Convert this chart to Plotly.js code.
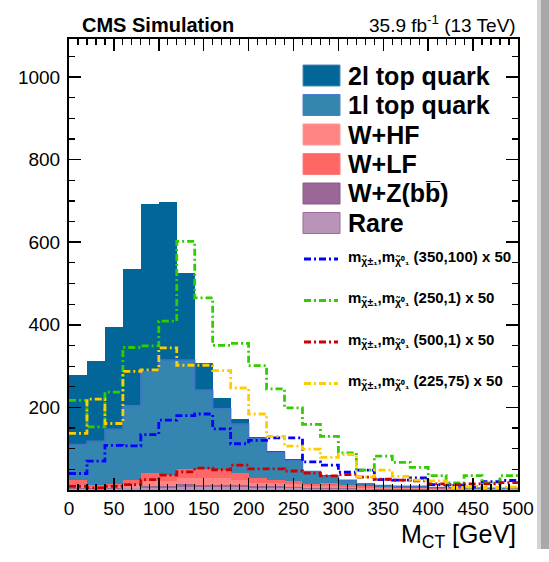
<!DOCTYPE html>
<html><head><meta charset="utf-8">
<script src="https://cdn.plot.ly/plotly-3.0.1.min.js"></script>
<style>html,body{margin:0;padding:0;background:#fff;}#chart{width:549px;height:562px;}</style>
</head><body><div id="chart"></div>
<script>
// ---- data (events per 20 GeV bin) ----
const binEdges   = [0,20,40,60,80,100,120,140,160,180,200,220,240,260,280,300,320,340,360,380,400,420,440,460,480,500];
const binCenters = [10,30,50,70,90,110,130,150,170,190,210,230,250,270,290,310,330,350,370,390,410,430,450,470,490];
const rare   = [3,3,3,4,5,5,8,8,8,7,5,5,4,3,3,2,2,1,1,1,0.5,0.5,0.5,0.5,0.5];
const wZbb   = [2,1,2,2,4,4,6,5,5,4,4,4,3,2,2,2,1,1,1,1,0.5,0.5,0.5,0.5,0.5];
const wHF    = [8,3,5,9,12,12,14,15,15,14,8,8,8,5,5,4,3,2,2,2,1.5,1.5,1,1,1];
const wLF    = [12,4,5,10,19,16,24,24,20,16,12,8,8,5,6,5,3,3,2,2,1.5,1.5,1,1,1];
const top1l  = [85,107,132,179,247,278,263,190,149,119,95,65,48,30,17,10.5,6,4,3,3,2,2,2,1,1];
const top2l  = [169,194,247,332,405,382,210,66,26,13,3.5,5,5,2,2.6,1.5,2,2,1.6,1.6,1,1,1,1,1];
const sig350_100 = [40,70,108,107,134,169,180,184,148,112,120,126,126,68,60,43,48,25,24,29,13,11,7,20,23];
const sig250_1   = [217,153,237,345,349,409,602,465,350,355,301,245,199,159,130,90,48,82,67,55,35,17,35,17,35];
const sig500_1   = [9,5,9,13,25,36,44,53,49,60,51,51,46,41,34,37,31,26,24,22,15,13,15,15,18];
const sig225_75  = [137,220,161,287,291,344,302,302,289,247,184,130,106,99,79,86,32,48,33,24,22,6,7,6,7];
const bkgLabels = ['2l top quark','1l top quark','W+HF','W+LF','W+Z(bb\u0305)','Rare'];
const sigLabels = ['(350,100) x 50','(250,1) x 50','(500,1) x 50','(225,75) x 50'];
const yTickVals = [200,400,600,800,1000];

// ---- styles ----
const FONT = 'Liberation Sans, Arial, Helvetica, sans-serif';
const bkgColors  = ['#036698','#3486b1','#ff8585','#ff6666','#9a6798','#b994b8'];
const bkgBorders = ['#4f8ab5','#4a7fd0','#ff9a9a','#ff7a7a','#8a5a88','#9a6a9a'];
const sigColors  = ['#0000ff','#33cc00','#cc0000','#ffcc00'];
const DASH = '7px,3px,2px,3px';

const W=549,H=562,L=69,R=31,T=39,B=72;
const pw=W-L-R, ph=H-T-B;
const px2x = p => (p-L)/pw;
const py2y = p => (H-B-p)/ph;

function barTrace(name, y, color){
  return {type:'bar', name:name, x:binCenters, y:y, width:20,
    marker:{color:color, line:{width:0}}, showlegend:false, hoverinfo:'skip'};
}
function stepTrace(y, color, width, dash){
  return {type:'scatter', mode:'lines', x:binEdges, y:y.concat([y[y.length-1]]),
    line:{shape:'hv', color:color, width:width, dash:dash}, showlegend:false, hoverinfo:'skip'};
}
const cum1l = binCenters.map((_,i)=>rare[i]+wZbb[i]+wHF[i]+wLF[i]+top1l[i]);

const traces = [
  barTrace('Rare', rare, bkgColors[5]),
  barTrace('W+Z(bb)', wZbb, bkgColors[4]),
  barTrace('W+HF', wHF, bkgColors[2]),
  barTrace('W+LF', wLF, bkgColors[3]),
  barTrace('1l top quark', top1l, bkgColors[1]),
  barTrace('2l top quark', top2l, bkgColors[0]),
  stepTrace(cum1l, '#3f74c8', 1.5, 'solid'),
  stepTrace(sig350_100, sigColors[0], 2.8, DASH),
  stepTrace(sig250_1, sigColors[1], 2.8, DASH),
  stepTrace(sig500_1, sigColors[2], 2.8, DASH),
  stepTrace(sig225_75, sigColors[3], 2.8, DASH)
];

const shapes = [];
const annotations = [];
// custom legend
const bkgRows = [75.5,105,134.5,164,193.5,223];
bkgRows.forEach((cy,i)=>{
  shapes.push({type:'rect', xref:'paper', yref:'paper', x0:px2x(303), x1:px2x(340),
    y0:py2y(cy+10.5), y1:py2y(cy-10.5), fillcolor:bkgColors[i], line:{color:bkgBorders[i], width:1}});
  annotations.push({xref:'paper', yref:'paper', x:px2x(346), y:py2y(cy), xanchor:'left', yanchor:'middle',
    text:bkgLabels[i], showarrow:false, font:{family:FONT, size:25, color:'#000', weight:'bold'}});
});
const sigRows = [259,300.5,342,383.5];
sigRows.forEach((cy,i)=>{
  shapes.push({type:'line', xref:'paper', yref:'paper', x0:px2x(304), x1:px2x(338),
    y0:py2y(cy), y1:py2y(cy), line:{color:sigColors[i], width:2.8, dash:DASH}});
  annotations.push({xref:'paper', yref:'paper', x:px2x(346), y:py2y(cy-2), xanchor:'left', yanchor:'middle',
    text:'m<sub>\u03C7\u0303\u00B1\u2081</sub>,m<sub>\u03C7\u0303\u2070\u2081</sub> '+sigLabels[i], showarrow:false,
    font:{family:FONT, size:15, color:'#000', weight:'bold'}});
});
// header texts and axis title
annotations.push({xref:'paper', yref:'paper', x:px2x(80), y:py2y(25.5), xanchor:'left', yanchor:'middle',
  text:'CMS Simulation', showarrow:false, font:{family:FONT, size:20, color:'#000', weight:'bold'}});
annotations.push({xref:'paper', yref:'paper', x:px2x(518), y:py2y(24.5), xanchor:'right', yanchor:'middle',
  text:'35.9 fb<sup>-1</sup> (13 TeV)', showarrow:false, font:{family:FONT, size:19, color:'#000'}});
annotations.push({xref:'paper', yref:'paper', x:px2x(518), y:py2y(518), xanchor:'right', yanchor:'top',
  text:'M<sub>CT</sub> [GeV]', showarrow:false, font:{family:FONT, size:25, color:'#000'}});
// drop shadow at the right edge of the picture
shapes.push({type:'rect', xref:'paper', yref:'paper', x0:px2x(537), x1:px2x(541), y0:py2y(549), y1:py2y(0),
  fillcolor:'#d4d4d4', line:{width:0}, layer:'below'});
shapes.push({type:'rect', xref:'paper', yref:'paper', x0:px2x(541), x1:px2x(549), y0:py2y(549), y1:py2y(0),
  fillcolor:'#a8a8a8', line:{width:0}, layer:'below'});

const axisCommon = {
  showline:true, linecolor:'#000', linewidth:2, mirror:'ticks', ticks:'inside', ticklen:12, tickwidth:1.5,
  tickcolor:'#000', showgrid:false, zeroline:false, layer:'above traces',
  tickfont:{family:FONT, size:19, color:'#000'}
};
const layout = {
  width:W, height:H, margin:{l:L, r:R, t:T, b:B},
  paper_bgcolor:'#fff', plot_bgcolor:'#fff',
  barmode:'stack', bargap:0, showlegend:false,
  xaxis:Object.assign({}, axisCommon, {range:[0,500], dtick:50,
    minor:{dtick:10, ticks:'inside', ticklen:6, tickwidth:1.2, tickcolor:'#000'}}),
  yaxis:Object.assign({}, axisCommon, {range:[0,1092], tickmode:'array', tickvals:yTickVals, ticklabelstandoff:3,
    minor:{dtick:50, ticks:'inside', ticklen:6, tickwidth:1.2, tickcolor:'#000'}}),
  shapes:shapes, annotations:annotations
};
Plotly.newPlot('chart', traces, layout, {staticPlot:true, displayModeBar:false});
</script>
</body></html>
